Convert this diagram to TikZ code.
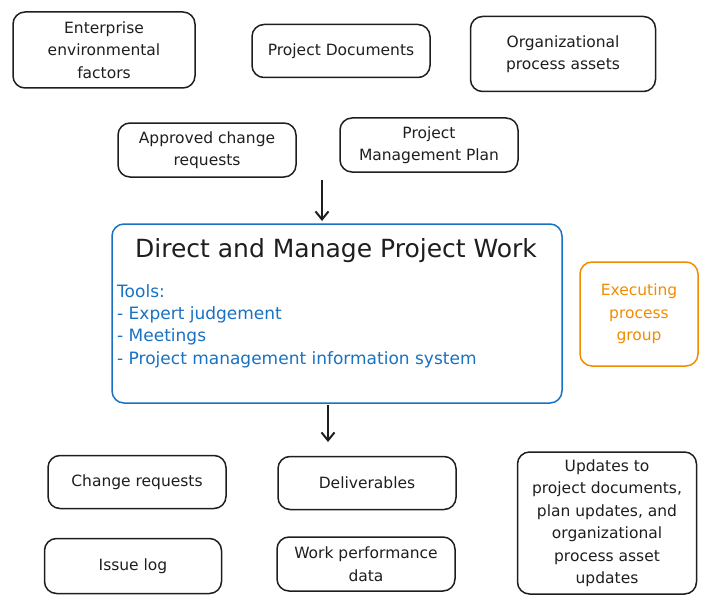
\documentclass[tikz,border=0pt]{standalone}
\usepackage{fontspec}
\setmainfont{DejaVu Sans}
\usetikzlibrary{arrows.meta}
\definecolor{inkc}{HTML}{1E1E1E}
\definecolor{bluec}{HTML}{1971C2}
\definecolor{orangec}{HTML}{F08C00}
\tikzset{
  box/.style={draw=inkc, line width=1.5pt, rounded corners=12pt, align=center,
    font=\fontsize{15.5}{22.5}\selectfont, text=inkc, inner sep=2pt},
  conn/.style={draw=inkc, line width=2pt, -{Straight Barb[length=8pt,width=13pt]}},
}
\begin{document}
\begin{tikzpicture}[x=1pt,y=-1pt]
\useasboundingbox (0,0) rectangle (722,607);
\node[box, minimum width=182pt, minimum height=76pt] (eef) at (104,50) {Enterprise\\environmental\\factors};
\node[box, minimum width=178pt, minimum height=53pt] (pd) at (341,51) {Project Documents};
\node[box, minimum width=185pt, minimum height=75pt] (opa) at (563,54) {Organizational\\process assets};
\node[box, minimum width=178pt, minimum height=54pt] (acr) at (207,150) {Approved change\\requests};
\node[box, minimum width=178pt, minimum height=54pt] (pmp) at (429,145) {Project\\Management Plan};

\node[box, draw=bluec, minimum width=450pt, minimum height=179pt] (main) at (337,313.5) {};
\node[font=\fontsize{25}{30}\selectfont, text=inkc, anchor=center] (title) at (336,251) {Direct and Manage Project Work};
\node[font=\fontsize{17}{22.3}\selectfont, text=bluec, align=left, anchor=north west, inner sep=0pt] (tools) at (117,284)
  {Tools:\\- Expert judgement\\- Meetings\\- Project management information system};

\node[box, draw=orangec, text=orangec, minimum width=118pt, minimum height=104pt] (exec) at (639,314) {Executing\\process\\group};

\node[box, minimum width=178pt, minimum height=53pt] (cr) at (137,482) {Change requests};
\node[box, minimum width=178pt, minimum height=53pt] (del) at (367,483) {Deliverables};
\node[box, minimum width=177pt, minimum height=55pt] (il) at (133,566) {Issue log};
\node[box, minimum width=178pt, minimum height=54pt] (wpd) at (366,564) {Work performance\\data};
\node[box, minimum width=179pt, minimum height=142pt] (upd) at (607,523) {Updates to\\project documents,\\plan updates, and\\organizational\\process asset\\updates};

\coordinate (inA) at (322,180);
\coordinate (inB) at (322,221);
\coordinate (outA) at (328,405);
\coordinate (outB) at (328,442);
\draw[conn] (inA) -- (inB);
\draw[conn] (outA) -- (outB);
\end{tikzpicture}
\end{document}
